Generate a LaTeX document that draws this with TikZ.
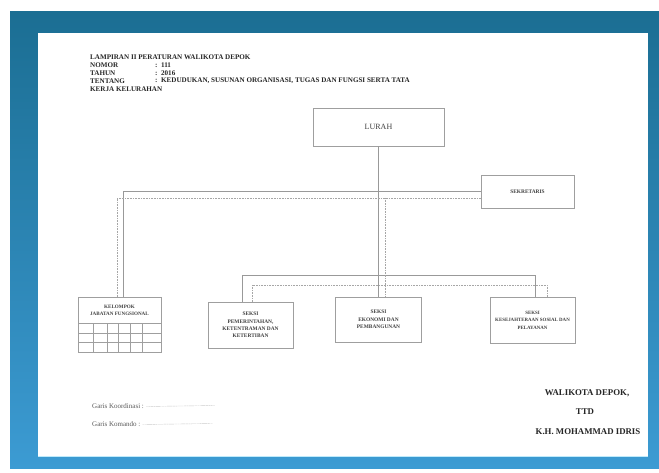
\documentclass[tikz,border=0pt]{standalone}
\usepackage{fontspec}
\setmainfont{Liberation Serif}
\definecolor{bgtop}{HTML}{1B6E93}
\definecolor{bgbot}{HTML}{3C9BD3}
\begin{document}
\begin{tikzpicture}[x=1pt,y=-1pt,
  box/.style={draw=gray!75,line width=0.7pt,fill=white,align=center,inner sep=1pt,text=black!75},
  kom/.style={draw=gray!80,line width=0.7pt},
  koor/.style={draw=gray!70,line width=0.6pt,dash pattern=on 0.8pt off 0.8pt},
  hdr/.style={font=\fontsize{7.1}{8}\selectfont\bfseries,anchor=west,inner sep=0pt,text=black!85},
  bt/.style={font=\fontsize{5.4}{7.4}\selectfont\bfseries},
  sig/.style={font=\fontsize{8.8}{10}\selectfont\bfseries,inner sep=0pt,text=black!85},
  leg/.style={font=\fontsize{7}{8}\selectfont,anchor=west,inner sep=0pt,text=black!65}]
\useasboundingbox (0,0) rectangle (659,473);
\fill[white] (0,0) rectangle (659,473);
\shade[top color=bgtop,bottom color=bgbot] (10,12) rectangle (659,468);
\fill[white] (38,33) rectangle (648,456);
\draw[cyan!25,line width=1pt] (38,456) -- (648,456);
% header
\node[hdr] (h1) at (90,57) {LAMPIRAN II PERATURAN WALIKOTA DEPOK};
\node[hdr] (h2) at (90,65) {NOMOR};
\node[hdr] (h3) at (90,73) {TAHUN};
\node[hdr] (h4) at (90,81) {TENTANG};
\node[hdr] (h5) at (90,89) {KERJA KELURAHAN};
\node[hdr] (c2) at (155,65) {:\ \ 111};
\node[hdr] (c3) at (155,73) {:\ \ 2016};
\node[hdr] (c4) at (155,81) {:\ \ KEDUDUKAN, SUSUNAN ORGANISASI, TUGAS DAN FUNGSI SERTA TATA};
% boxes
\node[box,minimum width=131pt,minimum height=38pt,font=\fontsize{8}{9}\selectfont] (lurah) at (378.5,127) {LURAH};
\node[box,minimum width=93pt,minimum height=33pt,bt] (sek) at (527.5,191.5) {SEKRETARIS};
\node[box,minimum width=83pt,minimum height=26pt,bt,font=\fontsize{5.1}{7}\selectfont\bfseries] (kjf) at (119.5,310) {KELOMPOK\\JABATAN FUNGSIONAL};
\draw[gray!75,line width=0.7pt] (78,323) rectangle (161,352);
\foreach \yy in {333,342.5} \draw[gray!75,line width=0.6pt] (78,\yy) -- (161,\yy);
\foreach \xx in {93,107,118.5,130,142} \draw[gray!75,line width=0.6pt] (\xx,323) -- (\xx,352);
\node[box,minimum width=85pt,minimum height=46pt,bt] (pem) at (250.5,325) {SEKSI\\PEMERINTAHAN,\\KETENTRAMAN DAN\\KETERTIBAN};
\node[box,minimum width=86pt,minimum height=45pt,bt] (ekon) at (378.5,319.5) {SEKSI\\EKONOMI DAN\\PEMBANGUNAN};
\node[box,minimum width=85pt,minimum height=46pt,bt,font=\fontsize{4.9}{7.4}\selectfont\bfseries] (kes) at (532.5,320) {SEKSI\\KESEJAHTERAAN SOSIAL DAN\\PELAYANAN};
% komando lines
\draw[kom] (lurah.south) -- (ekon.north);
\coordinate (kjfA) at (123,297);
\draw[kom] (sek.west) -| (kjfA);
\coordinate (pemA) at (242,302);
\coordinate (kesA) at (535,297);
\draw[kom] (pemA) -- ++(0,-27) -| (kesA);
% koordinasi lines
\coordinate (sekD) at (481,198);
\coordinate (kjfB) at (117,297);
\draw[koor] (sekD) -| (kjfB);
\coordinate (midD) at (385,198);
\coordinate (ekonD) at (385,297);
\draw[koor] (midD) -- (ekonD);
\coordinate (pemB) at (252,302);
\coordinate (kesB) at (547,297);
\draw[koor] (pemB) -- ++(0,-17) -| (kesB);
% legend
\node[leg] (g1) at (92,406) {Garis Koordinasi :};
\node[leg] (g2) at (92,424) {Garis Komando :};
\coordinate (g1e) at (215,406);
\coordinate (g2e) at (213,424);
\draw[gray!60,line width=0.4pt,dash pattern=on 0.5pt off 0.6pt] (g1.east) ++(2,0.5) -- ([yshift=0.5pt]g1e);
\draw[gray!60,line width=0.4pt,dash pattern=on 0.5pt off 0.6pt] (g2.east) ++(2,0.5) -- ([yshift=0.5pt]g2e);
% signature
\node[sig] (s1) at (587,393) {WALIKOTA DEPOK,};
\node[sig] (s2) at (585,412) {TTD};
\node[sig] (s3) at (588,432) {K.H. MOHAMMAD IDRIS};
\end{tikzpicture}
\end{document}
